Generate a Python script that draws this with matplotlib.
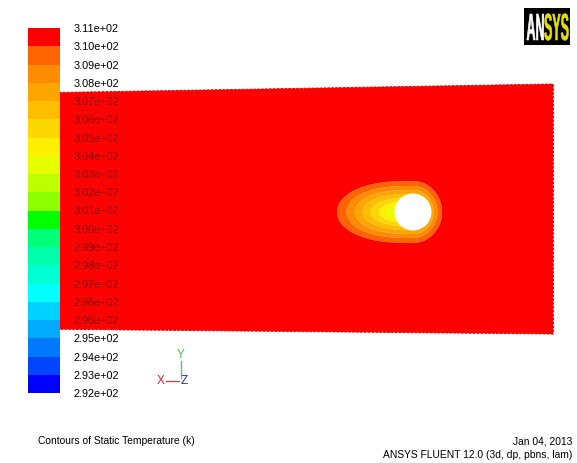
"""
Contornos de temperatura estatica alrededor de un cilindro (estilo Fluent).
"""
import numpy as np
import matplotlib
matplotlib.use("Agg")
import matplotlib.pyplot as plt
from matplotlib.path import Path
from matplotlib.patches import Circle, Rectangle, PathPatch
from matplotlib.textpath import TextPath
from matplotlib.font_manager import FontProperties
from matplotlib.transforms import Affine2D

plt.rcParams["font.family"] = ["Liberation Sans", "DejaVu Sans"]

# niveles de la barra de colores (K), de abajo hacia arriba
niveles = [291.72, 292.67, 293.62, 294.57, 295.52, 296.47, 297.42, 298.37,
           299.32, 300.27, 301.22, 302.17, 303.12, 304.07, 305.02, 305.97,
           306.92, 307.87, 308.82, 309.77, 310.72]
etiquetas = [f"{v:.2e}" for v in niveles]

# colores de cada banda, de abajo (azul) hacia arriba (rojo)
colores = ["#0000ff", "#0046ff", "#0078ff", "#00aaff", "#00d2ff",
           "#00ffff", "#00ffd2", "#00ffaa", "#00ff78", "#00ff00",
           "#8cff00", "#beff00", "#e6ff00", "#fff000", "#ffd700",
           "#ffbe00", "#ffa500", "#ff8c00", "#ff6400", "#ff0000"]

# esquinas del dominio en pixeles: sup-izq, sup-der, inf-der, inf-izq
dominio_x = [28, 553, 553, 28]
dominio_y = [93, 84, 334, 329]

# cilindro y estela
cil_x, cil_y, cil_r = 413, 212, 18.5
temp_ambiente = 310.3
caida_borde = 0.53
caida_max = 6.6
estela_izq, estela_der, estela_semi = 76, 29, 31


def campo_temperatura():
    u = np.linspace(0, 1, 500)
    v = np.linspace(0, 1, 260)
    uu, vv = np.meshgrid(u, v)
    x = ((1 - uu) * (1 - vv) * dominio_x[0] + uu * (1 - vv) * dominio_x[1]
         + uu * vv * dominio_x[2] + (1 - uu) * vv * dominio_x[3])
    y = ((1 - uu) * (1 - vv) * dominio_y[0] + uu * (1 - vv) * dominio_y[1]
         + uu * vv * dominio_y[2] + (1 - uu) * vv * dominio_y[3])
    dx = x - cil_x
    dy = y - cil_y
    ex = np.where(dx < 0, np.abs(dx / estela_izq) ** 2.6, (dx / estela_der) ** 2)
    ey = (dy / estela_semi) ** 2
    rho = np.sqrt(ex + ey)
    s = np.clip((1 - rho) / 0.8, 0, 1)
    caida = np.where(rho < 1,
                     caida_borde + (caida_max - caida_borde) * s ** 1.15,
                     np.maximum(caida_borde - (rho - 1) * 4, 0))
    return x, y, temp_ambiente - caida


fig = plt.figure(figsize=(5.77, 4.63), dpi=100)
ax = fig.add_axes([0, 0, 1, 1])
ax.set_xlim(0, 577)
ax.set_ylim(463, 0)
ax.axis("off")

x, y, temp = campo_temperatura()
ax.contourf(x, y, temp, levels=niveles, colors=colores, antialiased=True)
ax.add_patch(Circle((cil_x, cil_y), cil_r, facecolor="white", edgecolor="none", zorder=3))

# borde de la malla
for i, j in [(0, 1), (1, 2), (2, 3)]:
    ax.plot([dominio_x[i], dominio_x[j]], [dominio_y[i], dominio_y[j]],
            color="#c81010", lw=0.7, ls=(0, (2.5, 1.5)), zorder=2)

# barra de colores
ax_cb = fig.add_axes([28 / 577, 1 - 393 / 463, 32 / 577, 365 / 463])
ax_cb.bar(0, height=np.diff(niveles), bottom=niveles[:-1], width=1,
          color=colores, align="center")
ax_cb.set_xlim(-0.5, 0.5)
ax_cb.set_ylim(niveles[0], niveles[-1])
ax_cb.set_xticks([])
ax_cb.yaxis.tick_right()
ax_cb.set_yticks(niveles)
ax_cb.set_yticklabels(etiquetas, fontsize=7.8)
ax_cb.tick_params(axis="y", length=0, pad=9.5)
for s in ax_cb.spines.values():
    s.set_visible(False)

borde = Path(list(zip(dominio_x, dominio_y)))
for nivel, lbl in zip(niveles, ax_cb.get_yticklabels()):
    py = 28 + (niveles[-1] - nivel) / (niveles[-1] - niveles[0]) * 365
    lbl.set_color("#820000" if borde.contains_point((95, py)) else "black")

# triada de ejes
ax.plot([181, 181], [361, 378], color="#5ac85a", lw=1)
ax.plot([166, 179], [381, 381], color="#b45050", lw=1)
ax.text(181, 355, "Y", color="#46be46", fontsize=8.5, ha="center", va="center")
ax.text(160.5, 381.5, "X", color="#d22828", fontsize=8.5, ha="center", va="center")
ax.text(184.5, 381.5, "Z", color="#2828b4", fontsize=8.5, ha="center", va="center")

# logo
ax.add_patch(Rectangle((524, 8), 46, 37, facecolor="black", edgecolor="none"))
fp = FontProperties(family="Liberation Sans", weight="bold")
p_an = TextPath((0, 0), "AN", size=1, prop=fp)
p_sys = TextPath((0, 0), "SYS", size=1, prop=fp)
w_an = p_an.get_extents().x1 + 0.02
ancho = w_an + p_sys.get_extents().x1
alto = p_an.get_extents().y1
sx, sy = 42 / ancho, 26 / alto
t_an = Affine2D().scale(sx, -sy).translate(526.5, 40)
t_sys = Affine2D().translate(w_an, 0).scale(sx, -sy).translate(526.5, 40)
ax.add_patch(PathPatch(t_an.transform_path(p_an), facecolor="white",
                       edgecolor="white", lw=0.4))
ax.add_patch(PathPatch(t_sys.transform_path(p_sys), facecolor="#e6e000",
                       edgecolor="#e6e000", lw=0.4))

# textos inferiores
ax.text(38, 441, "Contours of Static Temperature (k)", fontsize=7.4, va="center")
ax.text(572, 441, "Jan 04, 2013", fontsize=7.4, va="center", ha="right")
ax.text(572, 455, "ANSYS FLUENT 12.0 (3d, dp, pbns, lam)", fontsize=7.4,
        va="center", ha="right")

fig.savefig("out.png", dpi=100)
